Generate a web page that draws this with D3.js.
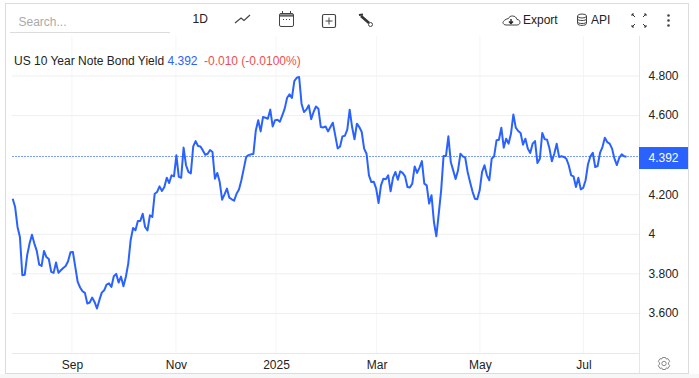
<!DOCTYPE html>
<html>
<head>
<meta charset="utf-8">
<script src="https://cdn.jsdelivr.net/npm/d3@7"></script>
<style>
  html, body { margin: 0; padding: 0; background: #fff; overflow: hidden; }
  svg { display: block; }
  text { font-family: "Liberation Sans", Arial, sans-serif; }
</style>
</head>
<body>
<script>
const yields = [
  4.180, 4.138, 4.037, 3.986, 3.793, 3.795, 3.894, 3.953, 3.998, 3.953, 3.916, 3.847, 3.840, 3.916, 3.885, 3.875,
  3.810, 3.805, 3.857, 3.805, 3.818, 3.830, 3.840, 3.864, 3.909, 3.911, 3.835, 3.759, 3.731, 3.712, 3.704, 3.650,
  3.655, 3.680, 3.658, 3.625, 3.667, 3.705, 3.717, 3.746, 3.752, 3.734, 3.788, 3.800, 3.756, 3.786, 3.737, 3.784,
  3.852, 3.970, 4.032, 4.020, 4.067, 4.067, 4.104, 4.037, 4.020, 4.096, 4.088, 4.205, 4.214, 4.242, 4.219, 4.239,
  4.286, 4.259, 4.298, 4.293, 4.399, 4.290, 4.286, 4.438, 4.349, 4.315, 4.308, 4.444, 4.471, 4.446, 4.444, 4.424,
  4.402, 4.407, 4.426, 4.416, 4.281, 4.310, 4.264, 4.175, 4.202, 4.231, 4.185, 4.177, 4.170, 4.205, 4.226, 4.273,
  4.332, 4.391, 4.400, 4.404, 4.406, 4.525, 4.576, 4.520, 4.593, 4.589, 4.584, 4.630, 4.545, 4.577, 4.579, 4.569,
  4.601, 4.635, 4.690, 4.707, 4.689, 4.774, 4.791, 4.795, 4.660, 4.618, 4.630, 4.652, 4.582, 4.618, 4.646, 4.635,
  4.542, 4.540, 4.545, 4.520, 4.542, 4.564, 4.500, 4.434, 4.444, 4.495, 4.498, 4.529, 4.630, 4.542, 4.480, 4.559,
  4.542, 4.517, 4.433, 4.407, 4.298, 4.264, 4.266, 4.231, 4.158, 4.247, 4.281, 4.278, 4.298, 4.217, 4.286, 4.315,
  4.276, 4.318, 4.310, 4.293, 4.239, 4.236, 4.256, 4.343, 4.310, 4.337, 4.370, 4.256, 4.247, 4.155, 4.197, 4.062,
  3.990, 4.104, 4.222, 4.396, 4.396, 4.495, 4.365, 4.323, 4.279, 4.323, 4.407, 4.394, 4.387, 4.315, 4.264, 4.217,
  4.180, 4.177, 4.222, 4.315, 4.349, 4.298, 4.273, 4.382, 4.394, 4.475, 4.478, 4.539, 4.438, 4.483, 4.458, 4.508,
  4.606, 4.539, 4.522, 4.512, 4.453, 4.483, 4.433, 4.411, 4.458, 4.471, 4.360, 4.382, 4.512, 4.481, 4.478, 4.433,
  4.369, 4.407, 4.458, 4.391, 4.394, 4.391, 4.382, 4.349, 4.298, 4.293, 4.239, 4.286, 4.227, 4.234, 4.273, 4.354,
  4.394, 4.412, 4.340, 4.345, 4.411, 4.441, 4.488, 4.466, 4.458, 4.433, 4.382, 4.350, 4.387, 4.404, 4.394, 4.392
];
const monthLabels = ['Sep', 'Nov', '2025', 'Mar', 'May', 'Jul'];
const monthIndex = [24.6, 67.8, 109.4, 151.2, 194.1, 237.1];
const yTicks = [4.8, 4.6, 4.2, 4, 3.8, 3.6];
const lastPrice = 4.392;
const toolbarLabels = ['1D', 'Export', 'API'];

const width = 699;
const height = 378;
const blue = '#2962ff';

const svg = d3.select('body').append('svg')
  .attr('width', width)
  .attr('height', height);

// outer frame and footer strip
svg.append('rect').attr('x', 0).attr('y', 374).attr('width', width).attr('height', 4).attr('fill', '#f7f7f7');
svg.append('rect')
  .attr('x', 5.5).attr('y', 3.5).attr('width', 683).attr('height', 370)
  .attr('fill', '#fff').attr('stroke', '#dcdcdc');

const x = d3.scaleLinear().domain([0, yields.length - 1]).range([12.7, 626.5]);
const y = d3.scaleLinear().domain([3.4, 4.8]).range([353, 76]);

// vertical grid
svg.append('g').selectAll('line').data(monthIndex).enter().append('line')
  .attr('x1', d => x(d)).attr('x2', d => x(d))
  .attr('y1', 36).attr('y2', 353)
  .attr('stroke', '#f3f5f9');

// horizontal grid
svg.append('g').selectAll('line').data(yTicks).enter().append('line')
  .attr('x1', 12).attr('x2', 639)
  .attr('y1', d => y(d)).attr('y2', d => y(d))
  .attr('stroke', '#efefef');

// right axis
const yAxis = d3.axisRight(y)
  .tickValues(yTicks)
  .tickSize(0)
  .tickPadding(9)
  .tickFormat(d => d === 4 ? '4' : d.toFixed(3));
const yG = svg.append('g').attr('transform', 'translate(639.5,-0.5)').call(yAxis);
yG.select('.domain').remove();
yG.selectAll('text').attr('font-size', 12).attr('fill', '#222').style('font-family', '"Liberation Sans", Arial, sans-serif');
svg.append('line').attr('x1', 639.5).attr('x2', 639.5).attr('y1', 36).attr('y2', 373).attr('stroke', '#e6e6e6');

// bottom axis
const xAxis = d3.axisBottom(x)
  .tickValues(monthIndex)
  .tickSize(0)
  .tickPadding(6)
  .tickFormat((d, i) => monthLabels[i]);
const xG = svg.append('g').attr('transform', 'translate(0,354)').call(xAxis);
xG.select('.domain').remove();
xG.selectAll('text').attr('font-size', 12).attr('fill', '#222').style('font-family', '"Liberation Sans", Arial, sans-serif');
svg.append('line').attr('x1', 12).attr('x2', 639).attr('y1', 353.5).attr('y2', 353.5).attr('stroke', '#e8e8e8');

// last price line
svg.append('line')
  .attr('x1', 12).attr('x2', 639)
  .attr('y1', Math.floor(y(lastPrice)) + 0.5).attr('y2', Math.floor(y(lastPrice)) + 0.5)
  .attr('stroke', '#7d9dff').attr('stroke-width', 1).attr('stroke-dasharray', '2,1');

// yield line
const line = d3.line().x((d, i) => x(i)).y(d => y(d));
svg.append('path')
  .datum(yields)
  .attr('d', line)
  .attr('fill', 'none')
  .attr('stroke', blue)
  .attr('stroke-width', 2)
  .attr('stroke-linejoin', 'round');

// last price tag
svg.append('rect')
  .attr('x', 639).attr('y', y(lastPrice) - 9.7).attr('width', 49).attr('height', 22)
  .attr('fill', blue);
svg.append('text')
  .attr('x', 663.5).attr('y', y(lastPrice) + 5.5)
  .attr('text-anchor', 'middle').attr('font-size', 12).attr('fill', '#fff')
  .text(lastPrice.toFixed(3));

// legend
const legend = svg.append('text').attr('x', 14).attr('y', 65).attr('font-size', 12);
legend.append('tspan').attr('fill', '#222').text('US 10 Year Note Bond Yield ');
legend.append('tspan').attr('fill', blue).text(lastPrice.toFixed(3));
legend.append('tspan').attr('dx', 6.5).attr('fill', '#ef4d4d').text('-0.010 (-0.0100%)');

// toolbar
svg.append('text').attr('x', 18.5).attr('y', 26).attr('font-size', 12).attr('fill', '#aaa').text('Search...');
svg.append('line').attr('x1', 10).attr('x2', 170).attr('y1', 32.5).attr('y2', 32.5).attr('stroke', '#dcdcdc');
svg.append('text').attr('x', 192.5).attr('y', 23).attr('font-size', 12).attr('fill', '#222').text(toolbarLabels[0]);
svg.append('text').attr('x', 523).attr('y', 24).attr('font-size', 12).attr('fill', '#222').text(toolbarLabels[1]);
svg.append('text').attr('x', 591).attr('y', 24).attr('font-size', 12).attr('fill', '#222').text(toolbarLabels[2]);

const icons = svg.append('g').attr('fill', 'none').attr('stroke', '#444').attr('stroke-width', 1);
// line icon
icons.append('path').attr('d', 'M235 23 L241 18 L244 20.5 L250 15').attr('stroke-width', 1.2);
// calendar
icons.append('rect').attr('x', 279.5).attr('y', 13.5).attr('width', 14).attr('height', 13).attr('rx', 1.5);
icons.append('path').attr('d', 'M280 15.5 H293').attr('stroke-width', 2.4).attr('stroke', '#666');
icons.append('path').attr('d', 'M282.5 11 V14 M290.5 11 V14 M283 19.5 H284 M286 19.5 H287 M289 19.5 H290');
// plus box
icons.append('rect').attr('x', 322.5).attr('y', 14.5).attr('width', 13).attr('height', 13).attr('rx', 1.5).attr('stroke-width', 1.2);
icons.append('path').attr('d', 'M329 17.5 V24.5 M325.5 21 H332.5');
// wrench
icons.append('path').attr('d', 'M361 16 L369 23').attr('stroke-width', 2.6).attr('stroke', '#333');
icons.append('circle').attr('cx', 370.5).attr('cy', 24.5).attr('r', 2);
icons.append('path').attr('d', 'M359 15 L363 14.5').attr('stroke-width', 2).attr('stroke', '#333');
// cloud
icons.append('path').attr('d', 'M506 25 H517 C521 25 521 19.5 517 19.5 C516 15 509.5 15 508.5 18.5 C505 19 503 21.5 503 22.5 C503 24 504.5 25 506 25 Z');
icons.append('path').attr('d', 'M511 19 V23 M509 21.5 L511 23.5 L513 21.5').attr('stroke', '#222').attr('stroke-width', 1.4);
// database
icons.append('ellipse').attr('cx', 582).attr('cy', 16).attr('rx', 4.5).attr('ry', 2);
icons.append('path').attr('d', 'M577.5 16 V23.5 C577.5 26 586.5 26 586.5 23.5 V16 M577.5 19 C577.5 21 586.5 21 586.5 19 M577.5 22 C577.5 24 586.5 24 586.5 22');
// fullscreen
icons.append('path').attr('d', 'M632 14 L635 17 M632 14 H634 M632 14 V16 M646 14 L643 17 M646 14 H644 M646 14 V16 M632 27 L635 24 M632 27 H634 M632 27 V25 M646 27 L643 24 M646 27 H644 M646 27 V25').attr('stroke', '#333');
// kebab
svg.append('g').attr('fill', '#444').selectAll('circle').data([15.5, 20.5, 25.5]).enter().append('circle')
  .attr('cx', 668.5).attr('cy', d => d).attr('r', 1.3);
// gear
const gear = svg.append('g').attr('transform', 'translate(664,363.5)').attr('fill', 'none').attr('stroke', '#8a8a8a');
gear.append('circle').attr('r', 2.2);
gear.append('path')
  .attr('d', 'M-1.6 -6 H1.6 L2.2 -4.4 L4 -4.9 L5.8 -2 L4.4 -0.9 V0.9 L5.8 2 L4 4.9 L2.2 4.4 L1.6 6 H-1.6 L-2.2 4.4 L-4 4.9 L-5.8 2 L-4.4 0.9 V-0.9 L-5.8 -2 L-4 -4.9 L-2.2 -4.4 Z');
</script>
</body>
</html>
